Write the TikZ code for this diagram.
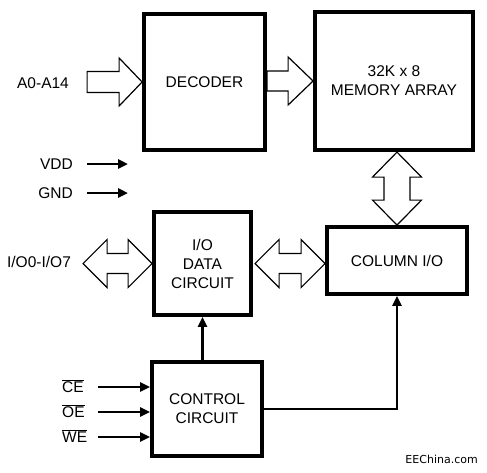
\documentclass[tikz,border=0pt]{standalone}
\usepackage{fontspec}
\setmainfont{Liberation Sans}
\newfontfamily\markfont{DejaVu Sans}
\usetikzlibrary{arrows.meta}
\tikzset{
  block/.style={draw,line width=3.8pt,align=center,inner sep=0pt,
    font=\fontsize{15.5}{19}\selectfont},
  pin/.style={inner sep=0pt,font=\fontsize{15.5}{19}\selectfont},
  hollow/.style={draw,line width=1.2pt,line join=miter},
  wire/.style={line width=2.6pt,-{Triangle[length=10pt,width=9pt]}}
}
\begin{document}
\begin{tikzpicture}[x=1pt,y=-1pt]
\useasboundingbox (0,0) rectangle (487,472);

\node[block,minimum width=121pt,minimum height=136pt] (dec) at (204.5,82) {DECODER};
\node[block,minimum width=158pt,minimum height=138pt] (mem) at (394,81) {32K x 8\\MEMORY ARRAY};
\node[block,minimum width=97pt,minimum height=103pt] (io) at (202.5,263.5) {I/O\\DATA\\CIRCUIT};
\node[block,minimum width=140pt,minimum height=67pt] (col) at (397,260.5) {COLUMN I/O};
\node[block,minimum width=110pt,minimum height=94pt] (ctl) at (207,409) {CONTROL\\CIRCUIT};

\node[pin] (addr) at (43,83) {A0-A14};
\node[pin,anchor=east] (vdd) at (73,164) {VDD};
\node[pin,anchor=east] (gnd) at (73,193) {GND};
\node[pin] (iopins) at (39,262) {I/O0-I/O7};
\node[pin,anchor=base west] (ce) at (62,392.5) {$\overline{\mbox{CE}}$};
\node[pin,anchor=base west] (oe) at (62,417.5) {$\overline{\mbox{OE}}$};
\node[pin,anchor=base west] (we) at (62,442.5) {$\overline{\mbox{WE}}$};
\node[anchor=base east,inner sep=0pt,font=\markfont\fontsize{11}{13}\selectfont] (site) at (478,463.5) {EEChina.com};

% wide bus arrows
\draw[hollow] (dec.west) -- ++(-23,-24) -- ++(0,13.5) -- ++(-32,0) -- ++(0,21) -- ++(32,0) -- ++(0,13.5) -- cycle;
\draw[hollow] (mem.west) -- ++(-25,-24) -- ++(0,14) -- ++(-21,0) -- ++(0,20) -- ++(21,0) -- ++(0,14) -- cycle;
\draw[hollow] (col.north) -- ++(-24.5,-25) -- ++(11.5,0) -- ++(0,-23) -- ++(-11.5,0) -- ++(24.5,-25)
  -- ++(24.5,25) -- ++(-11.5,0) -- ++(0,23) -- ++(11.5,0) -- cycle;
\draw[hollow] (io.west) -- ++(-24,-24) -- ++(0,14) -- ++(-21,0) -- ++(0,-14) -- ++(-24,24)
  -- ++(24,24) -- ++(0,-14) -- ++(21,0) -- ++(0,14) -- cycle;
\draw[hollow] (col.west |- io.east) -- ++(-24,-24) -- ++(0,14) -- ++(-22,0) -- ++(0,-14) -- ++(-24,24)
  -- ++(24,24) -- ++(0,-14) -- ++(22,0) -- ++(0,14) -- cycle;

% signal lines
\draw[wire] (vdd.east) ++(14,0) -- ++(41,0);
\draw[wire] (gnd.east) ++(14,0) -- ++(41,0);
\foreach \s/\y in {ce/387,oe/412,we/437}{
  \coordinate (\s in) at (98,\y);
  \draw[wire] (\s in) -- (\s in -| ctl.west);
}
\draw[wire] (io.south |- ctl.north) -- (io.south);
\draw[wire] (ctl.east) -| (col.south);
\end{tikzpicture}
\end{document}
